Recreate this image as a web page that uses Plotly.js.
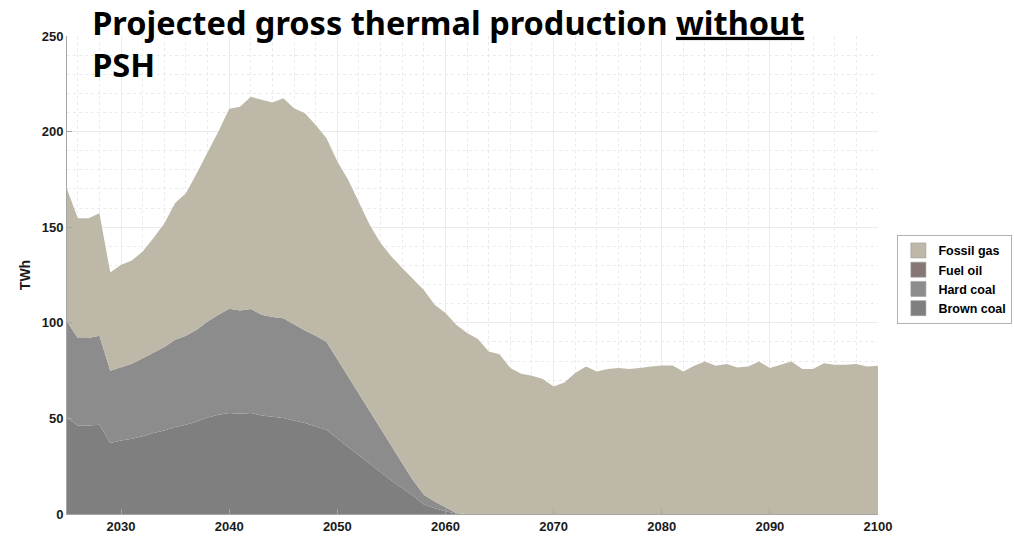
<!DOCTYPE html>
<html>
<head>
<meta charset="utf-8">
<script src="https://cdn.plot.ly/plotly-3.0.1.min.js"></script>
<style>html,body{margin:0;padding:0;background:#fff;}#chart{width:1014px;height:536px;}</style>
</head>
<body>
<div id="chart"></div>
<script>
const years = [2025,2026,2027,2028,2029,2030,2031,2032,2033,2034,2035,2036,2037,2038,2039,2040,2041,2042,2043,2044,2045,2046,2047,2048,2049,2050,2051,2052,2053,2054,2055,2056,2057,2058,2059,2060,2061,2062,2063,2064,2065,2066,2067,2068,2069,2070,2071,2072,2073,2074,2075,2076,2077,2078,2079,2080,2081,2082,2083,2084,2085,2086,2087,2088,2089,2090,2091,2092,2093,2094,2095,2096,2097,2098,2099,2100];

const brownCoal = [50.2,46.3,46.3,46.7,37.1,38.5,39.4,40.6,42.3,43.7,45.5,46.7,48.4,50.5,51.9,52.8,52.4,52.8,51.5,50.7,50.2,48.9,47.6,45.8,44.0,39.5,35.0,30.5,26.0,21.5,17.5,13.5,9.5,5.0,3.0,1.5,0.2,0,0,0,0,0,0,0,0,0,0,0,0,0,0,0,0,0,0,0,0,0,0,0,0,0,0,0,0,0,0,0,0,0,0,0,0,0,0,0];

const hardCoal = [50.5,45.7,45.7,46.5,37.8,38.3,39.2,40.9,42.2,43.6,45.6,46.5,47.9,50.2,52.3,54.5,54.0,54.4,52.7,52.3,52.2,50.1,48.4,47.4,45.9,41.5,36.8,32.1,27.7,23.1,18.2,13.0,8.1,5.1,3.5,2.0,0.3,0,0,0,0,0,0,0,0,0,0,0,0,0,0,0,0,0,0,0,0,0,0,0,0,0,0,0,0,0,0,0,0,0,0,0,0,0,0,0];

const fuelOil = [0,0,0,0,0,0,0,0,0,0,0,0,0,0,0,0,0,0,0,0,0,0,0,0,0,0,0,0,0,0,0,0,0,0,0,0,0,0,0,0,0,0,0,0,0,0,0,0,0,0,0,0,0,0,0,0,0,0,0,0,0,0,0,0,0,0,0,0,0,0,0,0,0,0,0,0];

const fossilGas = [69.3,62.7,62.7,64.1,51.4,53.5,54.0,55.8,59.8,64.7,71.5,74.6,81.9,88.0,95.8,104.6,106.6,111.0,112.4,112.2,115.1,113.2,113.6,110.3,106.6,103.3,103.0,100.8,97.5,97.1,99.0,102.1,105.4,107.1,102.9,101.6,98.5,94.6,91.5,85.0,83.5,76.3,73.3,72.3,70.6,66.7,68.8,73.7,77.2,74.5,75.8,76.3,75.9,76.3,77.2,77.7,77.7,74.5,77.5,79.8,77.5,78.4,76.6,77.2,79.8,76.3,78.0,79.8,75.9,75.9,78.9,78.0,78.0,78.4,77.2,77.5];

const seriesNames = ["Brown coal","Hard coal","Fuel oil","Fossil gas"];
const seriesColors = ["#7f7f7f","#8c8c8c","#867676","#bdb8a7"];
const seriesValues = [brownCoal, hardCoal, fuelOil, fossilGas];

const xTickVals = [2030,2040,2050,2060,2070,2080,2090,2100];
const yTickVals = [0,50,100,150,200,250];

const areaTraces = seriesNames.map((name, i) => ({
  type: 'scatter',
  mode: 'lines',
  x: years,
  y: seriesValues[i],
  name: name,
  legendgroup: name,
  showlegend: false,
  stackgroup: 'one',
  line: {width: 0, color: seriesColors[i]},
  fillcolor: seriesColors[i],
  hoverinfo: 'x+y+name'
}));

// legend-only entries drawn as square patches (no data marks)
const legendTraces = seriesNames.map((name, i) => ({
  type: 'scatter',
  mode: 'markers',
  x: [null],
  y: [null],
  name: name,
  legendgroup: name,
  showlegend: true,
  marker: {symbol: 'square', size: 15, color: seriesColors[i], line: {width: 0.6, color: '#9a9a9a'}},
  hoverinfo: 'skip'
}));

const tickFont = {family: 'Liberation Sans, Arial, sans-serif', size: 13, color: '#1a1a1a', weight: 'bold'};

const layout = {
  width: 1014,
  height: 536,
  margin: {l: 67, r: 136, t: 36, b: 22, pad: 0},
  paper_bgcolor: '#ffffff',
  plot_bgcolor: '#ffffff',
  showlegend: true,
  title: {
    text: 'Projected gross thermal production <u>without</u><br>PSH',
    font: {family: 'Noto Sans, Open Sans, sans-serif', size: 32.5, color: '#000000', weight: 'bold'},
    x: 0.031, xref: 'paper', xanchor: 'left',
    y: 0.935, yref: 'container', yanchor: 'top'
  },
  xaxis: {
    range: [2025, 2100],
    tickvals: xTickVals,
    ticktext: xTickVals.map(String),
    ticks: 'inside',
    ticklen: 5,
    tickcolor: '#a6a6a6',
    tickfont: tickFont,
    showline: true,
    linecolor: '#a6a6a6',
    linewidth: 1,
    showgrid: true,
    gridcolor: '#ebebeb',
    gridwidth: 1,
    zeroline: false,
    minor: {dtick: 2, tick0: 2024, showgrid: true, gridcolor: '#ebebeb', griddash: 'dot', gridwidth: 1, ticks: ''},
    fixedrange: true
  },
  yaxis: {
    range: [0, 250],
    tickvals: yTickVals,
    ticktext: yTickVals.map(String),
    ticks: 'inside',
    ticklen: 5,
    tickcolor: '#a6a6a6',
    tickfont: tickFont,
    showline: true,
    linecolor: '#a6a6a6',
    linewidth: 1,
    showgrid: true,
    gridcolor: '#ebebeb',
    gridwidth: 1,
    zeroline: false,
    minor: {dtick: 10, showgrid: true, gridcolor: '#ebebeb', griddash: 'dot', gridwidth: 1, ticks: ''},
    title: {text: 'TWh', font: {family: 'Liberation Sans, Arial, sans-serif', size: 14, color: '#1a1a1a', weight: 'bold'}, standoff: 7},
    fixedrange: true
  },
  legend: {
    xref: 'container', yref: 'container',
    x: 0.885, xanchor: 'left',
    y: 0.562, yanchor: 'top',
    traceorder: 'reversed',
    bgcolor: '#ffffff',
    bordercolor: '#b0b0b0',
    borderwidth: 1,
    font: {family: 'Liberation Sans, Arial, sans-serif', size: 12.5, color: '#000000', weight: 'bold'},
    tracegroupgap: 0,
    itemwidth: 30,
    itemsizing: 'trace'
  }
};

Plotly.newPlot('chart', areaTraces.concat(legendTraces), layout, {staticPlot: true, displayModeBar: false});
</script>
</body>
</html>
